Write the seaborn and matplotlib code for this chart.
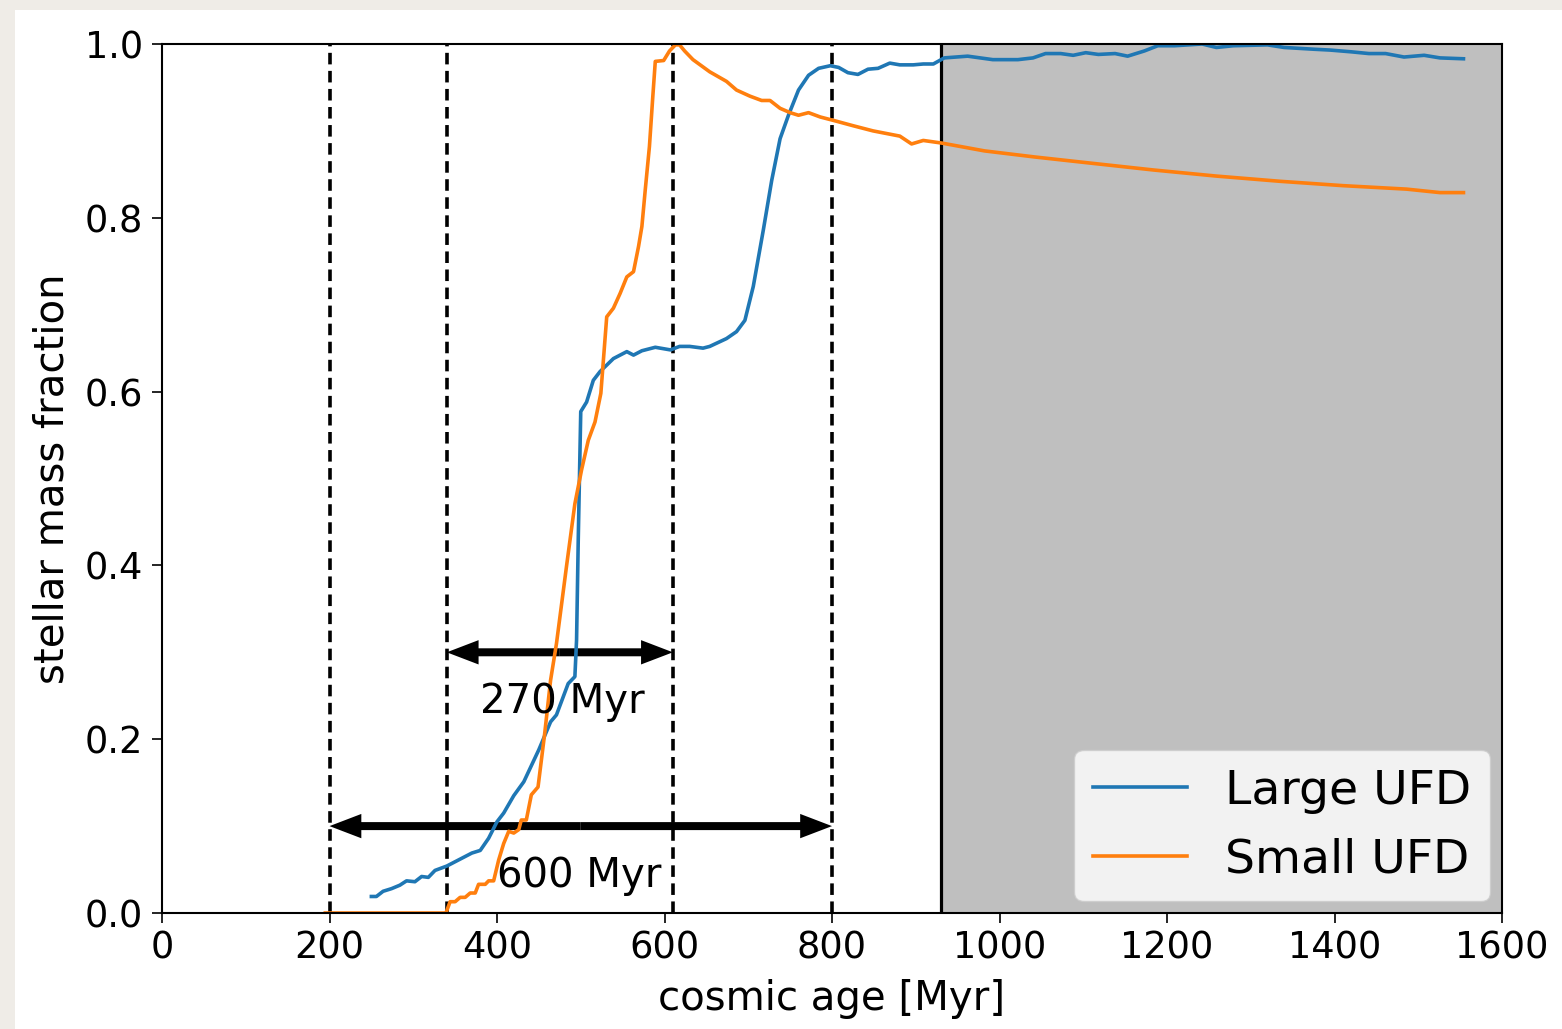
import numpy as np
import pandas as pd
import seaborn as sns
import matplotlib.pyplot as plt
from matplotlib.patches import Rectangle

# Large UFD: cosmic age [Myr] vs stellar mass fraction
large_age = [250, 256, 264, 274, 284, 292, 302, 310, 318, 326, 340, 356, 370, 380,
             390, 400, 408, 420, 432, 450, 464, 471, 485, 493, 495, 497, 500, 507,
             515, 523, 539, 555, 563, 573, 589, 607, 618, 630, 646, 654, 674, 686,
             696, 706, 718, 728, 738, 748, 760, 772, 784, 798, 808, 819, 831, 843,
             855, 869, 881, 897, 909, 921, 934, 962, 992, 1022, 1040, 1055, 1073,
             1088, 1103, 1118, 1138, 1153, 1173, 1189, 1209, 1242, 1259, 1279, 1320,
             1340, 1375, 1395, 1420, 1441, 1461, 1483, 1507, 1526, 1554]
large_frac = [0.019, 0.019, 0.025, 0.028, 0.032, 0.037, 0.036, 0.042, 0.041, 0.049,
              0.054, 0.062, 0.069, 0.072, 0.086, 0.105, 0.115, 0.135, 0.151, 0.188,
              0.220, 0.228, 0.264, 0.272, 0.314, 0.429, 0.577, 0.588, 0.613, 0.623,
              0.638, 0.646, 0.642, 0.647, 0.651, 0.648, 0.652, 0.652, 0.650, 0.652,
              0.661, 0.669, 0.682, 0.721, 0.786, 0.843, 0.891, 0.918, 0.947, 0.964,
              0.972, 0.975, 0.973, 0.967, 0.965, 0.971, 0.972, 0.978, 0.976, 0.976,
              0.977, 0.977, 0.984, 0.986, 0.982, 0.982, 0.984, 0.989, 0.989, 0.987,
              0.990, 0.988, 0.989, 0.986, 0.992, 0.998, 0.998, 1.000, 0.996, 0.998,
              0.999, 0.996, 0.994, 0.993, 0.991, 0.989, 0.989, 0.985, 0.987, 0.984,
              0.983]

# Small UFD
small_age = [195, 339, 344, 350, 356, 362, 368, 374, 378, 386, 390, 396, 402, 408,
             414, 420, 426, 429, 435, 441, 449, 457, 464, 471, 483, 493, 501, 509,
             517, 524, 531, 539, 547, 555, 563, 569, 573, 577, 582, 586, 589, 599,
             606, 613, 618, 624, 634, 654, 674, 686, 702, 716, 726, 738, 750, 760,
             772, 786, 802, 825, 849, 881, 895, 909, 931, 982, 1042, 1108, 1184,
             1259, 1335, 1410, 1486, 1526, 1554]
small_frac = [0.0, 0.0, 0.013, 0.013, 0.018, 0.018, 0.023, 0.023, 0.033, 0.033,
              0.037, 0.037, 0.061, 0.080, 0.094, 0.092, 0.096, 0.107, 0.107, 0.136,
              0.145, 0.207, 0.268, 0.310, 0.399, 0.471, 0.510, 0.544, 0.565, 0.598,
              0.686, 0.696, 0.713, 0.732, 0.738, 0.767, 0.790, 0.832, 0.882, 0.939,
              0.980, 0.981, 0.992, 0.999, 0.999, 0.992, 0.982, 0.968, 0.957, 0.947,
              0.940, 0.935, 0.935, 0.926, 0.921, 0.918, 0.921, 0.916, 0.912, 0.906,
              0.900, 0.894, 0.885, 0.889, 0.886, 0.877, 0.870, 0.863, 0.855, 0.848,
              0.842, 0.837, 0.833, 0.829, 0.829]

# marker lines: dashed epochs, end of simulation, and the two intervals
dashed_ages = [200, 340, 610, 800]
sim_end = 930
intervals = [(340, 610, 0.3, '270 Myr', 380, 0.23),
             (200, 800, 0.1, '600 Myr', 400, 0.03)]

df_large = pd.DataFrame({'age': large_age, 'frac': large_frac})
df_small = pd.DataFrame({'age': small_age, 'frac': small_frac})

fig = plt.figure(figsize=(15.62, 10.29), dpi=100)
fig.patch.set_facecolor('#efece7')
fig.patches.append(Rectangle((15 / 1562, 0), 1, 1 - 10 / 1029, transform=fig.transFigure,
                             facecolor='white', edgecolor='none', zorder=-10))
ax = fig.add_axes([162 / 1562, 1 - 913 / 1029, 1340 / 1562, 869 / 1029])
ax.set_zorder(5)

ax.axvspan(sim_end, 1600, color='0.75', zorder=0)
ax.axvline(sim_end, color='k', lw=2.3)
for a in dashed_ages:
    ax.axvline(a, color='k', ls=(0, (3.2, 1.8)), lw=2.6)

sns.lineplot(data=df_large, x='age', y='frac', ax=ax, sort=False, estimator=None,
             color='#1f77b4', lw=2.6, label='Large UFD')
sns.lineplot(data=df_small, x='age', y='frac', ax=ax, sort=False, estimator=None,
             color='#ff7f0e', lw=2.6, label='Small UFD')

# double-headed arrows: two heads drawn outwards from the middle
for x0, x1, yy, txt, tx, ty in intervals:
    mid = (x0 + x1) / 2
    for end in (x0, x1):
        ax.arrow(mid, yy, end - mid, 0, width=0.0092, head_width=0.028,
                 head_length=38, length_includes_head=True, color='k', lw=0)
    ax.text(tx, ty, txt, fontsize=29)

ax.set_xlim(0, 1600)
ax.set_ylim(0, 1)
ax.set_xticks(np.arange(0, 1601, 200))
ax.set_yticks(np.arange(0, 1.01, 0.2))
ax.tick_params(labelsize=26.5, length=7, width=1.2)
ax.tick_params(axis='y', pad=6.5)
ax.tick_params(axis='x', pad=5)
for s in ax.spines.values():
    s.set_linewidth(1.5)
ax.set_xlabel('cosmic age [Myr]', fontsize=29, labelpad=9)
ax.set_ylabel('stellar mass fraction', fontsize=29, labelpad=9)
ax.legend(loc='lower right', fontsize=34, borderaxespad=0.25)

fig.savefig('out.png', dpi=100, facecolor=fig.get_facecolor())
